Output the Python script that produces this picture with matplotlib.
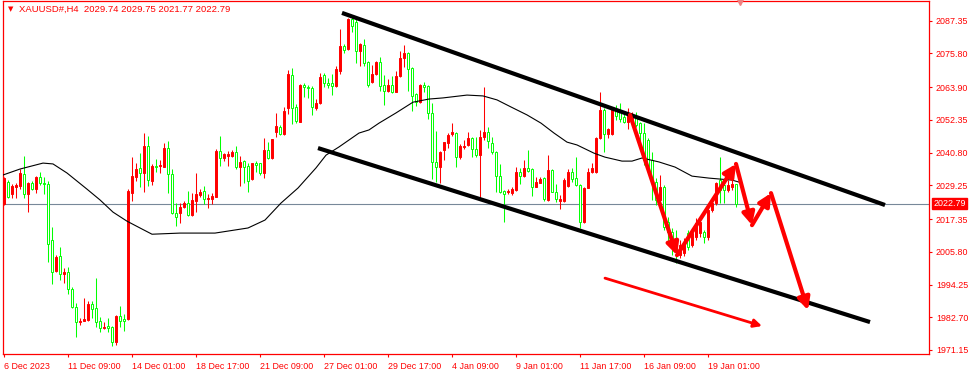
import matplotlib
matplotlib.use('Agg')
import matplotlib.pyplot as plt

# --- XAUUSD H4 candles ---
opens = [2022.6, 2030.4, 2026.2, 2028.6, 2029.0, 2033.2, 2026.2, 2030.0, 2027.9, 2032.2,
         2030.0, 2029.7, 2009.9, 1999.0, 2004.3, 1997.9, 1998.6, 1992.6, 1986.3, 1981.0,
         1981.3, 1981.7, 1987.3, 1985.9, 1981.3, 1978.9, 1979.6, 1979.2, 1973.9, 1983.1,
         1982.0, 1982.0, 2026.5, 2032.2, 2035.4, 2033.6, 2043.1, 2030.8, 2036.0, 2036.0,
         2035.7, 2042.4, 2033.2, 2019.5, 2019.5, 2021.6, 2023.0, 2018.7, 2023.7, 2025.8,
         2027.2, 2024.4, 2024.4, 2025.1, 2041.3, 2038.9, 2039.6, 2039.6, 2041.0, 2035.7,
         2037.8, 2036.0, 2031.5, 2037.1, 2037.1, 2033.6, 2041.7, 2038.9, 2048.1, 2049.8,
         2047.4, 2056.5, 2068.2, 2056.9, 2051.6, 2064.6, 2063.9, 2063.6, 2056.5, 2058.3,
         2068.2, 2065.4, 2065.4, 2064.3, 2069.6, 2078.4, 2077.3, 2088.0, 2086.9, 2076.6,
         2078.8, 2072.8, 2065.7, 2068.5, 2072.8, 2064.6, 2062.5, 2064.6, 2062.2, 2067.8,
         2074.2, 2075.9, 2070.7, 2061.5, 2058.6, 2064.6, 2064.3, 2054.8, 2037.5, 2035.7,
         2041.7, 2044.2, 2047.4, 2047.7, 2039.2, 2042.8, 2043.5, 2045.9, 2042.0, 2039.9,
         2046.3, 2048.1, 2044.2, 2041.0, 2032.5, 2027.2, 2026.9, 2026.5, 2027.6, 2033.9,
         2032.5, 2035.4, 2035.0, 2028.6, 2030.0, 2031.8, 2024.1, 2034.6, 2026.9, 2023.7,
         2023.7, 2029.0, 2033.9, 2031.8, 2029.3, 2016.3, 2028.3, 2033.9, 2033.9, 2045.9,
         2055.8, 2047.4, 2047.4, 2056.2, 2055.1, 2053.4, 2051.6, 2052.6, 2053.7, 2051.2,
         2047.7, 2045.2, 2038.2, 2030.4, 2024.1, 2028.6, 2016.3, 2012.8, 2009.9, 2004.6,
         2005.3, 2012.4, 2008.2, 2011.0, 2012.4, 2012.8, 2011.0, 2020.5, 2023.0, 2031.1,
         2029.3, 2027.6, 2028.6, 2029.74]
highs = [2032.2, 2031.1, 2029.7, 2030.0, 2035.0, 2039.6, 2030.4, 2030.8, 2032.5, 2033.9,
         2032.2, 2030.8, 2014.5, 2004.6, 2007.5, 2000.0, 2000.4, 1993.3, 1987.7, 1982.4,
         1989.5, 1988.4, 1988.4, 1996.5, 1982.7, 1981.0, 1982.4, 1979.6, 1983.5, 1986.6,
         1983.8, 2027.9, 2039.2, 2037.1, 2040.6, 2047.7, 2046.6, 2036.8, 2038.5, 2038.2,
         2044.2, 2044.9, 2035.0, 2023.0, 2023.0, 2023.7, 2027.2, 2026.5, 2033.6, 2027.9,
         2029.0, 2026.2, 2026.5, 2042.0, 2046.6, 2040.6, 2041.3, 2041.7, 2043.1, 2039.6,
         2038.2, 2037.1, 2037.1, 2037.8, 2037.1, 2045.9, 2044.5, 2045.6, 2054.8, 2050.5,
         2056.9, 2069.9, 2070.7, 2058.0, 2065.0, 2065.4, 2064.6, 2064.3, 2059.7, 2068.9,
         2068.9, 2067.1, 2068.5, 2071.4, 2084.4, 2079.1, 2088.3, 2088.6, 2088.0, 2079.5,
         2080.9, 2073.1, 2071.7, 2073.1, 2074.5, 2068.2, 2066.8, 2067.8, 2069.6, 2076.6,
         2078.8, 2076.3, 2071.0, 2061.8, 2065.0, 2065.7, 2064.6, 2058.3, 2048.4, 2041.3,
         2044.5, 2047.7, 2051.2, 2048.1, 2043.8, 2045.2, 2048.1, 2046.3, 2046.3, 2048.8,
         2063.9, 2049.8, 2046.3, 2041.3, 2036.8, 2027.6, 2027.9, 2028.6, 2035.7, 2035.4,
         2038.2, 2041.7, 2035.4, 2032.2, 2032.2, 2032.2, 2039.9, 2035.0, 2029.7, 2025.8,
         2031.8, 2035.0, 2035.4, 2039.2, 2029.7, 2028.6, 2035.4, 2037.1, 2046.3, 2062.2,
         2056.5, 2049.5, 2056.9, 2057.6, 2058.3, 2054.8, 2056.5, 2055.1, 2055.1, 2051.6,
         2051.2, 2045.9, 2041.0, 2031.8, 2032.9, 2029.3, 2018.0, 2014.2, 2013.5, 2009.9,
         2010.6, 2013.5, 2014.2, 2017.7, 2017.7, 2013.5, 2021.2, 2024.1, 2030.4, 2039.2,
         2030.4, 2031.1, 2031.8, 2029.75]
lows = [2022.3, 2024.8, 2024.8, 2024.8, 2027.9, 2024.8, 2019.8, 2027.6, 2026.5, 2029.3,
        2026.2, 2002.2, 1994.4, 1998.6, 1995.8, 1994.8, 1990.9, 1985.9, 1975.7, 1979.9,
        1981.3, 1981.3, 1982.4, 1979.2, 1977.5, 1978.5, 1977.5, 1972.5, 1972.9, 1979.2,
        1977.8, 1981.7, 2023.7, 2030.8, 2028.6, 2026.9, 2029.0, 2029.3, 2033.9, 2033.6,
        2035.7, 2026.5, 2019.1, 2014.9, 2015.9, 2021.2, 2018.4, 2018.4, 2019.8, 2025.1,
        2022.6, 2021.2, 2022.6, 2025.1, 2036.0, 2037.8, 2036.0, 2039.2, 2035.0, 2029.0,
        2030.0, 2026.9, 2031.1, 2033.9, 2032.9, 2031.8, 2038.5, 2038.5, 2046.3, 2047.0,
        2047.0, 2054.4, 2050.9, 2051.2, 2051.6, 2060.4, 2060.1, 2054.1, 2055.8, 2057.9,
        2063.9, 2063.6, 2061.1, 2063.9, 2068.5, 2075.9, 2077.0, 2083.4, 2072.4, 2071.4,
        2071.4, 2063.9, 2065.4, 2068.2, 2062.5, 2057.6, 2062.2, 2061.8, 2062.2, 2067.5,
        2071.0, 2062.5, 2055.5, 2057.2, 2058.3, 2062.2, 2052.6, 2031.5, 2030.4, 2030.0,
        2038.2, 2042.4, 2046.6, 2035.7, 2038.5, 2042.0, 2043.1, 2039.2, 2039.2, 2024.8,
        2045.2, 2042.4, 2040.3, 2026.9, 2026.5, 2016.3, 2026.2, 2025.8, 2027.2, 2029.7,
        2032.2, 2033.9, 2025.5, 2028.6, 2030.0, 2023.7, 2023.7, 2026.9, 2023.4, 2020.9,
        2023.4, 2028.6, 2030.4, 2029.0, 2014.2, 2016.0, 2028.3, 2033.6, 2033.6, 2045.6,
        2041.0, 2045.9, 2047.0, 2052.3, 2051.6, 2051.2, 2049.1, 2051.6, 2049.8, 2044.5,
        2036.4, 2033.9, 2024.1, 2022.3, 2023.4, 2013.5, 2008.2, 2004.6, 2001.8, 2003.6,
        2004.3, 2006.4, 2007.5, 2009.9, 2011.0, 2008.9, 2009.9, 2019.8, 2022.3, 2023.0,
        2023.0, 2026.9, 2027.6, 2021.77]
closes = [2031.8, 2025.1, 2029.0, 2029.3, 2033.6, 2026.2, 2030.0, 2027.9, 2032.2, 2030.0,
          2029.7, 2008.5, 1998.6, 2003.9, 1997.9, 1998.6, 1992.6, 1986.3, 1981.0, 1981.3,
          1982.0, 1987.3, 1985.6, 1981.0, 1978.9, 1979.2, 1978.9, 1973.9, 1983.1, 1981.3,
          1981.3, 2027.2, 2032.5, 2035.0, 2033.6, 2043.1, 2031.1, 2036.0, 2035.7, 2036.4,
          2042.4, 2033.2, 2019.5, 2018.0, 2021.6, 2023.0, 2018.7, 2024.1, 2026.2, 2026.9,
          2024.4, 2024.8, 2025.5, 2041.3, 2038.9, 2040.3, 2040.3, 2041.0, 2035.7, 2037.5,
          2035.7, 2030.8, 2037.1, 2036.4, 2033.6, 2041.7, 2038.9, 2045.6, 2050.2, 2047.4,
          2055.5, 2068.5, 2056.5, 2051.9, 2064.6, 2063.9, 2063.6, 2056.9, 2058.3, 2067.5,
          2065.4, 2064.6, 2064.3, 2070.3, 2078.4, 2077.0, 2088.0, 2085.5, 2076.6, 2079.1,
          2072.4, 2064.6, 2068.5, 2072.8, 2064.3, 2062.5, 2064.6, 2062.2, 2067.8, 2074.2,
          2075.9, 2070.3, 2060.8, 2058.6, 2064.6, 2063.9, 2054.8, 2037.5, 2035.7, 2041.0,
          2044.5, 2047.0, 2048.1, 2039.2, 2043.1, 2043.1, 2045.9, 2042.0, 2039.9, 2046.3,
          2048.1, 2044.9, 2041.0, 2032.5, 2026.9, 2026.2, 2027.2, 2027.9, 2033.9, 2032.5,
          2035.4, 2034.3, 2028.6, 2030.4, 2031.5, 2024.4, 2034.6, 2026.9, 2024.4, 2024.4,
          2031.1, 2033.9, 2031.5, 2029.3, 2016.3, 2028.3, 2033.9, 2035.4, 2045.9, 2055.8,
          2047.4, 2049.1, 2056.2, 2053.7, 2052.6, 2051.6, 2054.1, 2053.7, 2050.5, 2047.7,
          2038.2, 2035.7, 2030.4, 2024.1, 2028.6, 2014.5, 2012.8, 2007.1, 2005.7, 2008.2,
          2008.2, 2007.5, 2012.4, 2015.9, 2016.3, 2011.0, 2020.5, 2023.0, 2030.0, 2027.6,
          2027.6, 2029.3, 2029.7, 2022.79]

# moving average (bar index, price)
ma_idx = [-0.25, 4, 9.75, 12.25, 15.75, 20.75, 24, 27.25, 30.75, 34, 37, 44, 52.75, 61,
          65.25, 69.25, 73.5, 78, 80.5, 83.75, 88.75, 91.25, 93.75, 98, 102.25, 106.25,
          109.75, 115.75, 119.75, 123.25, 126.75, 130.75, 134.25, 137.5, 140.75, 143.25,
          147.5, 150.25, 154.5, 157, 159.5, 163.75, 167.75, 172, 176.25, 182, 183.75]
ma_val = [2032.9, 2035.0, 2037.1, 2036.8, 2033.6, 2027.9, 2024.1, 2019.8, 2016.6, 2014.2,
          2012.0, 2012.4, 2012.4, 2014.2, 2017.0, 2023.0, 2028.3, 2035.4, 2039.9, 2042.8,
          2047.7, 2048.8, 2051.2, 2054.8, 2058.6, 2059.7, 2060.1, 2061.1, 2060.8, 2059.4,
          2056.9, 2054.1, 2051.2, 2047.7, 2044.5, 2043.5, 2040.6, 2039.2, 2037.8, 2037.8,
          2038.9, 2037.5, 2035.7, 2032.5, 2031.8, 2031.1, 2030.4]

# channel lines drawn on the chart: (bar index, price)
upper_channel = [(84.5, 2090.1), (220.25, 2022.3)]
lower_channel = [(78.5, 2042.4), (216.5, 1981.0)]
# red zig-zag forecast and the thin direction arrow
zigzag = [(156.5, 2054.1), (168.25, 2004.6), (183, 2036.8), (187, 2015.2),
          (191.75, 2026.5), (201, 1985.2)]
direction = [(150.25, 1996.5), (189.5, 1979.6)]

bid = 2022.79
header = 'XAUUSD#,H4  2029.74 2029.75 2021.77 2022.79'
date_labels = ['6 Dec 2023', '11 Dec 09:00', '14 Dec 01:00', '18 Dec 17:00',
               '21 Dec 09:00', '27 Dec 01:00', '29 Dec 17:00', '4 Jan 09:00',
               '9 Jan 01:00', '11 Jan 17:00', '16 Jan 09:00', '19 Jan 01:00']
price_ticks = [2087.35, 2075.80, 2063.90, 2052.35, 2040.80, 2029.25, 2017.35,
               2005.80, 1994.25, 1982.70, 1971.15]

RED = '#ff0000'
GREEN = '#00ff00'
FONT = ['Liberation Sans', 'DejaVu Sans']

fig = plt.figure(figsize=(9.74, 3.72), dpi=100)
ax = fig.add_axes([3 / 974, 18 / 372, 926 / 974, 353 / 372])
ax.set_xlim(-0.25, 231.25)
ax.set_ylim(1969.73, 2094.30)

# candles: red = up (filled), green = down (hollow)
for i in range(len(opens)):
    o, h, l, c = opens[i], highs[i], lows[i], closes[i]
    col = RED if c >= o else GREEN
    ax.vlines(i, l, h, color=col, lw=0.75, zorder=2)
    body = max(abs(c - o), 0.25)
    face = RED if c >= o else 'white'
    ax.bar(i, body, bottom=min(o, c), width=0.7, color=face, edgecolor=col,
           linewidth=0.7, zorder=3)

ax.axhline(bid, color='#778899', lw=0.8, zorder=1)
ax.plot(ma_idx, ma_val, color='black', lw=0.8, zorder=4)

for line in (upper_channel, lower_channel):
    ax.plot([p[0] for p in line], [p[1] for p in line], color='black', lw=3.0,
            solid_capstyle='butt', zorder=5)

for a, b in zip(zigzag[:-1], zigzag[1:]):
    ax.annotate('', xy=b, xytext=a, zorder=6,
                arrowprops=dict(arrowstyle='-|>', color=RED, lw=3,
                                mutation_scale=18, shrinkA=0, shrinkB=0))
ax.annotate('', xy=direction[1], xytext=direction[0], zorder=6,
            arrowprops=dict(arrowstyle='-|>', color=RED, lw=2,
                            mutation_scale=12, shrinkA=0, shrinkB=0))

# axes styling like the terminal
for s in ax.spines.values():
    s.set_color(RED)
    s.set_linewidth(0.9)
ax.yaxis.tick_right()
ax.set_yticks(price_ticks)
ax.set_yticklabels(['%.2f' % p for p in price_ticks], fontfamily=FONT)
ax.set_xticks(range(0, 16 * len(date_labels), 16))
ax.set_xticklabels(date_labels, ha='left', fontfamily=FONT)
ax.tick_params(axis='both', colors=RED, labelcolor=RED, labelsize=6.4,
               length=2.5, width=0.8)
ax.tick_params(axis='x', pad=3)
ax.tick_params(axis='y', pad=2.5)

ax.annotate('%.2f' % bid, xy=(1.0, bid), xycoords=('axes fraction', 'data'),
            xytext=(3, 0), textcoords='offset points', va='center', ha='left',
            color='white', fontsize=6.4, fontfamily=FONT,
            bbox=dict(boxstyle='square,pad=0.15', fc=RED, ec=RED))

# header
fig.text(8 / 974, 1 - 9 / 372, '\u25bc', color=RED, fontsize=5, va='center',
         family=['DejaVu Sans'])
fig.text(19 / 974, 1 - 9 / 372, header, color=RED, fontsize=6.8, va='center',
         family=FONT)
# chart shift marker
ax.plot([184], [2094.30], marker='v', color='#f08080', markersize=6,
        clip_on=False, zorder=7)

fig.savefig('out.png', dpi=100)
